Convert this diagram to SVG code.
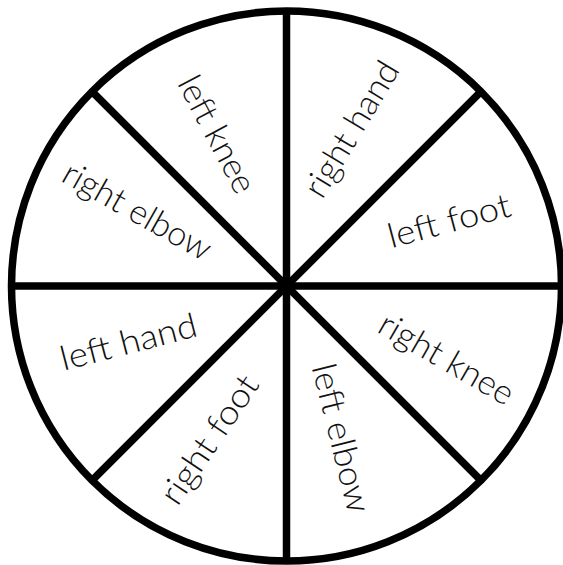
<svg xmlns="http://www.w3.org/2000/svg" width="563" height="565" viewBox="0 0 563 565">
<style>
.ln{stroke:#000;stroke-width:7.5;fill:none}
.lb{font-family:Lato,"Liberation Sans",sans-serif;font-weight:300;font-size:34px;fill:#111;text-anchor:middle}
</style>
<rect width="563" height="565" fill="#fff"/>
<g id="connectors">
<circle class="ln" cx="286.5" cy="286" r="275"/>
<line class="ln" x1="286.5" y1="11" x2="286.5" y2="561"/>
<line class="ln" x1="11.5" y1="286" x2="561.5" y2="286"/>
<line class="ln" x1="92" y1="91.5" x2="481" y2="480.5"/>
<line class="ln" x1="481" y1="91.5" x2="92" y2="480.5"/>
</g>
<g id="left-knee"><text class="lb" transform="translate(206.7,139.8) rotate(62)" textLength="128" lengthAdjust="spacingAndGlyphs">left knee</text></g>
<g id="right-hand"><text class="lb" transform="translate(361.5,135) rotate(-59)" textLength="152" lengthAdjust="spacingAndGlyphs">right hand</text></g>
<g id="left-foot"><text class="lb" transform="translate(452,232) rotate(-15)" textLength="126" lengthAdjust="spacingAndGlyphs">left foot</text></g>
<g id="right-elbow"><text class="lb" transform="translate(131.5,221) rotate(29.5)" textLength="165" lengthAdjust="spacingAndGlyphs">right elbow</text></g>
<g id="left-hand"><text class="lb" transform="translate(131.3,353.3) rotate(-14.5)" textLength="140" lengthAdjust="spacingAndGlyphs">left hand</text></g>
<g id="right-knee"><text class="lb" transform="translate(440.8,368.8) rotate(30)" textLength="150" lengthAdjust="spacingAndGlyphs">right knee</text></g>
<g id="left-elbow"><text class="lb" transform="translate(330,440.8) rotate(76)" textLength="152" lengthAdjust="spacingAndGlyphs">left elbow</text></g>
<g id="right-foot"><text class="lb" transform="translate(219,446) rotate(-56)" textLength="148" lengthAdjust="spacingAndGlyphs">right foot</text></g>
</svg>
